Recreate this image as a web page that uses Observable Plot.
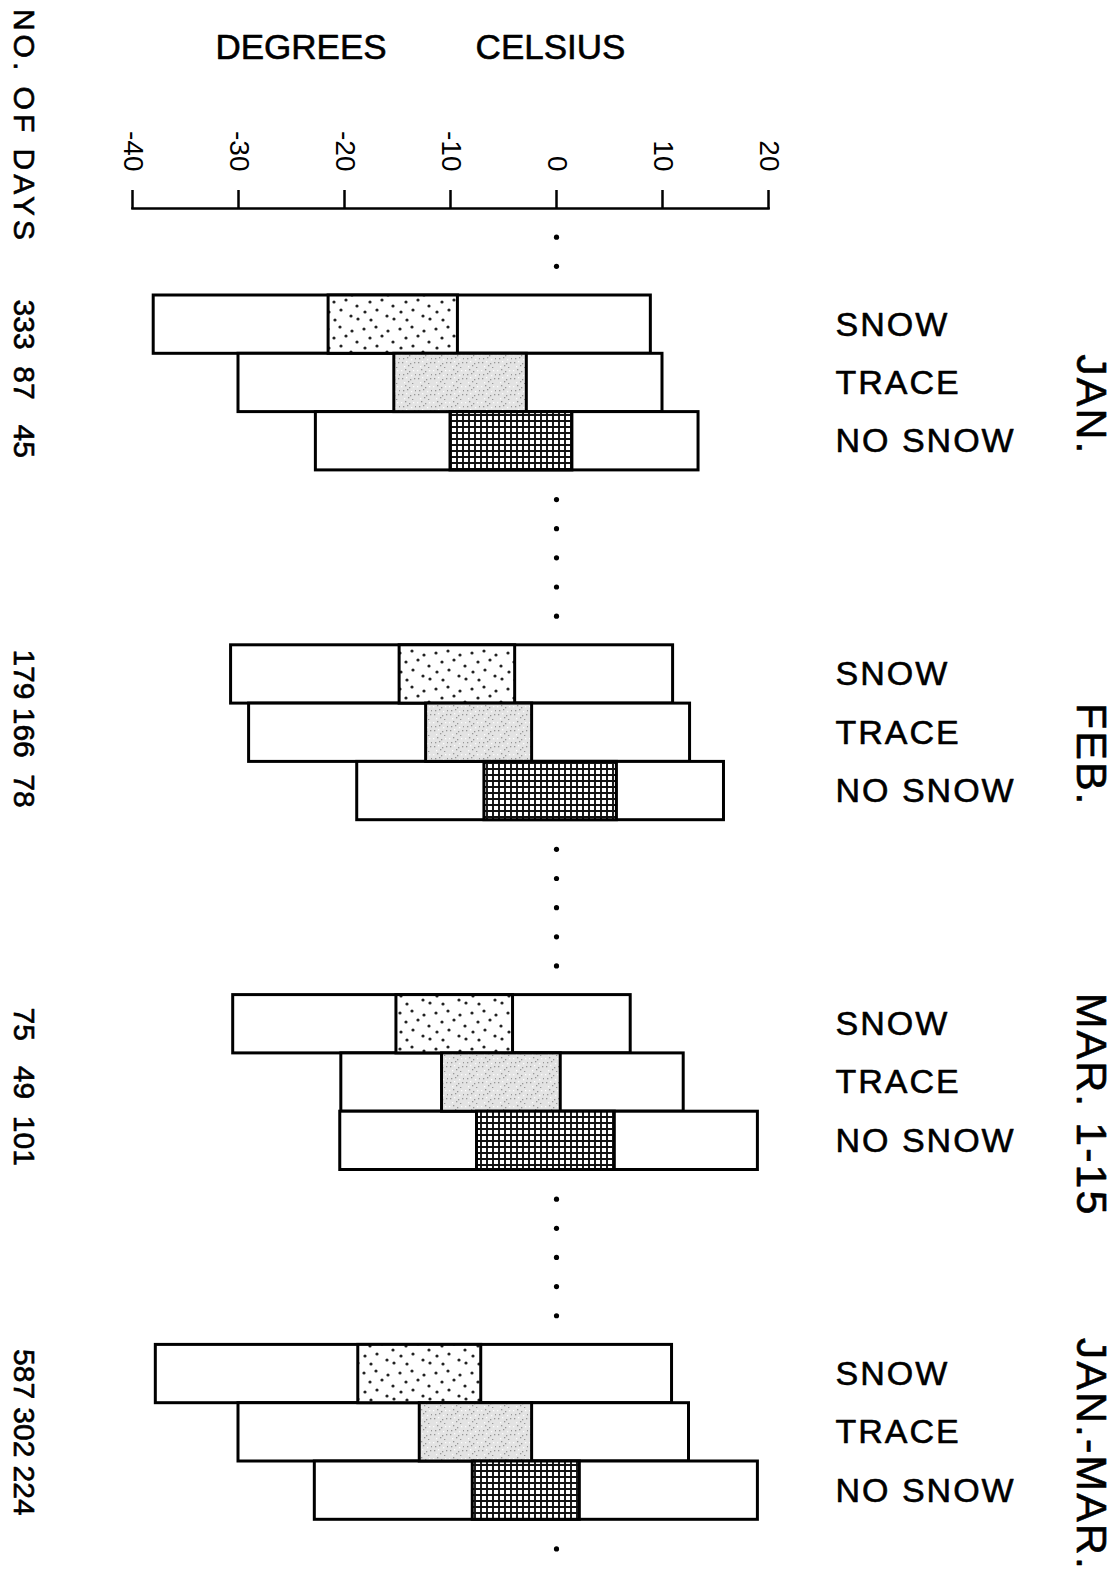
<!DOCTYPE html>
<html>
<head>
<meta charset="utf-8">
<script src="https://cdn.jsdelivr.net/npm/d3@7"></script>
<script src="https://cdn.jsdelivr.net/npm/@observablehq/plot@0.6"></script>
<style>
  body { margin: 0; background: #fff; }
  #chart svg { display: block; }
</style>
</head>
<body>
<div id="chart"></div>
<script>
// Daily temperature ranges (°C) by snow-cover condition and period
const periods = ["JAN.", "FEB.", "MAR. 1-15", "JAN.-MAR."];
const conditions = ["SNOW", "TRACE", "NO SNOW"];
const degreeTicks = [-40, -30, -20, -10, 0, 10, 20];
const daysTitle = "NO. OF DAYS";

// number of days in each period / condition
const dayCounts = [
  [333, 87, 45],
  [179, 166, 78],
  [75, 49, 101],
  [587, 302, 224]
];
// extreme low of the range
const tempMin = [
  [-38.0, -30.0, -22.7],
  [-30.7, -29.0, -18.8],
  [-30.5, -20.3, -20.4],
  [-37.8, -30.0, -22.8]
];
// lower edge of the central (shaded) part
const tempLow = [
  [-21.5, -15.3, -10.0],
  [-14.8, -12.3, -6.8],
  [-15.1, -10.8, -7.5],
  [-18.7, -12.9, -7.9]
];
// upper edge of the central (shaded) part
const tempHigh = [
  [-9.3, -2.8, 1.5],
  [-3.9, -2.3, 5.7],
  [-4.1, 0.4, 5.5],
  [-7.1, -2.3, 2.2]
];
// extreme high of the range
const tempMax = [
  [8.9, 10.0, 13.4],
  [11.0, 12.6, 15.8],
  [7.0, 12.0, 19.0],
  [10.9, 12.5, 19.0]
];

// each period occupies three bar rows followed by a three-row gap
const rows = [];
periods.forEach((period, g) => {
  conditions.forEach((condition, r) => {
    rows.push({
      period, condition,
      slot: g * 6 + r,
      days: dayCounts[g][r],
      min: tempMin[g][r], lo: tempLow[g][r],
      hi: tempHigh[g][r], max: tempMax[g][r]
    });
  });
});

// dotted 0 °C guide in the gaps between the groups
const zeroGaps = [[-1, -0.5], [3.5, 5.5], [9.5, 11.5], [15.5, 17.5], [21.5, 21.5]];
const zeroDots = zeroGaps.flatMap(([a, b]) => d3.range(a, b + 0.25, 0.5));

const patternIds = ["fill-snow", "fill-trace", "fill-nosnow"];
const font = "'Liberation Sans', Arial, Helvetica, sans-serif";
const ink = { fill: "black", stroke: "black", strokeWidth: 0.6 };

const chart = Plot.plot({
  width: 1116,
  height: 1579,
  marginLeft: 132,
  marginRight: 348,
  marginTop: 208,
  marginBottom: 0,
  style: { fontFamily: font, color: "black", background: "white" },
  x: { domain: [-40, 20] },
  y: { domain: [0, 24], range: [295, 295 + 24 * 58.3], axis: null },
  marks: [
    Plot.frame({ anchor: "top", strokeWidth: 2.5 }),
    Plot.axisX({
      anchor: "top", ticks: degreeTicks, tickSize: 19, tickPadding: 18,
      tickRotate: 90, fontSize: 28, strokeWidth: 2.5,
      tickFormat: (d) => String(d), label: null
    }),
    Plot.dot(zeroDots, { x: 0, y: (d) => d, r: 2.6, fill: "black", stroke: null }),
    Plot.rect(rows, {
      x1: "min", x2: "max", y1: "slot", y2: (d) => d.slot + 1,
      fill: "white", stroke: "black", strokeWidth: 3
    }),
    ...conditions.map((c, i) => Plot.rect(rows.filter((d) => d.condition === c), {
      x1: "lo", x2: "hi", y1: "slot", y2: (d) => d.slot + 1,
      fill: `url(#${patternIds[i]})`, stroke: "black", strokeWidth: 3
    })),
    // number of days, one per bar
    Plot.text(rows, {
      y: (d) => d.slot + 0.5, text: (d) => String(d.days),
      frameAnchor: "left", dx: -109, rotate: 90, fontSize: 30,
      textAnchor: "middle", lineAnchor: "middle", ...ink
    }),
    // condition names
    Plot.text(rows, {
      y: (d) => d.slot + 0.5, text: "condition",
      frameAnchor: "right", dx: 67, textAnchor: "start", lineAnchor: "middle", fontSize: 34,
      ...ink
    }),
    // period names
    Plot.text(periods, {
      y: (d, i) => i * 6 + 1.5, text: (d) => d,
      frameAnchor: "right", dx: 322, dy: 22, rotate: 90, fontSize: 43,
      textAnchor: "middle", lineAnchor: "middle", ...ink
    }),
    Plot.text(["DEGREES"], {
      text: (d) => d, frameAnchor: "top-left", dx: 168.5, dy: -160.5, fontSize: 35,
      textAnchor: "middle", lineAnchor: "middle", ...ink
    }),
    Plot.text(["CELSIUS"], {
      text: (d) => d, frameAnchor: "top-left", dx: 418, dy: -160.5, fontSize: 35,
      textAnchor: "middle", lineAnchor: "middle", ...ink
    }),
    Plot.text([daysTitle], {
      text: (d) => d, frameAnchor: "top-left", dx: -109, dy: -82, rotate: 90,
      fontSize: 30, textAnchor: "middle", lineAnchor: "middle", ...ink
    })
  ]
});

// fill patterns for the central part of each bar
const svg = d3.select(chart);
const defs = svg.insert("defs", ":first-child");

const snow = defs.append("pattern").attr("id", "fill-snow")
  .attr("patternUnits", "userSpaceOnUse").attr("width", 36).attr("height", 36);
snow.append("rect").attr("width", 36).attr("height", 36).attr("fill", "white");
[[4, 5], [16, 3], [28, 7], [10, 14], [22, 12], [33, 18], [5, 24], [17, 22], [27, 28], [11, 32], [34, 31]]
  .forEach(([cx, cy]) => snow.append("circle").attr("cx", cx).attr("cy", cy).attr("r", 1.6).attr("fill", "#222"));

const trace = defs.append("pattern").attr("id", "fill-trace")
  .attr("patternUnits", "userSpaceOnUse").attr("width", 16).attr("height", 16);
trace.append("rect").attr("width", 16).attr("height", 16).attr("fill", "#e3e3e3");
[[1, 2], [5, 1], [9, 3], [13, 2], [3, 6], [7, 5], [11, 7], [15, 6], [2, 10], [6, 9], [10, 11], [14, 10], [4, 14], [8, 13], [12, 15]]
  .forEach(([cx, cy], i) => trace.append("rect").attr("x", cx).attr("y", cy)
    .attr("width", 1.3).attr("height", 1.3).attr("fill", i % 3 === 0 ? "#fbfbfb" : "#979797"));

const grid = defs.append("pattern").attr("id", "fill-nosnow")
  .attr("patternUnits", "userSpaceOnUse").attr("width", 6).attr("height", 6);
grid.append("rect").attr("width", 6).attr("height", 6).attr("fill", "white");
grid.append("path").attr("d", "M0 1H6M1 0V6").attr("stroke", "#111").attr("stroke-width", 1.9);

// letter spacing of the hand-lettered labels
const spaced = (labels, px) =>
  svg.selectAll("text").filter(function () { return labels.includes(this.textContent); })
    .attr("letter-spacing", px);
spaced(conditions, 2);
spaced(periods, 2);
spaced([daysTitle], 4);

document.getElementById("chart").appendChild(chart);
</script>
</body>
</html>
